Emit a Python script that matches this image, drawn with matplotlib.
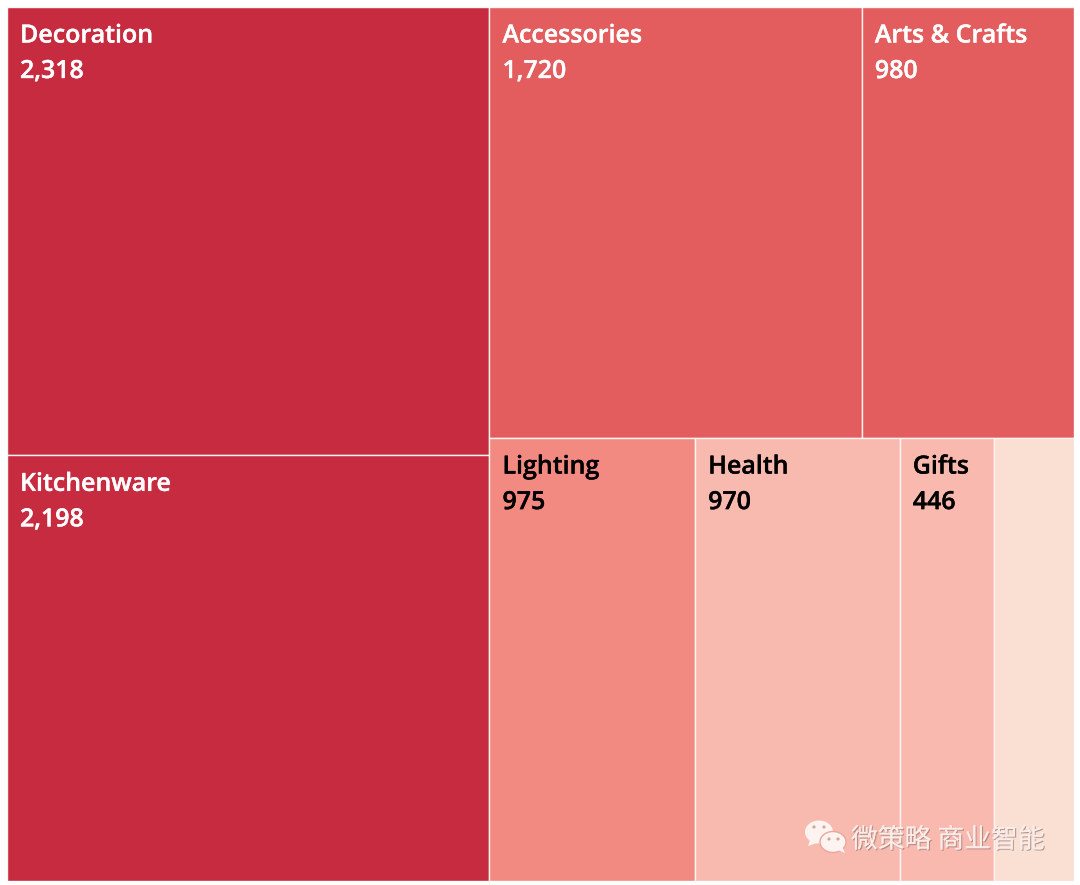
import matplotlib
matplotlib.use("Agg")
import matplotlib.pyplot as plt
import matplotlib.patheffects as pe
from matplotlib.patches import Rectangle, Ellipse, Polygon

# column, row and cell order follow the picture
left_names = ["Decoration", "Kitchenware"]
left_values = [2318, 2198]
top_names = ["Accessories", "Arts & Crafts"]
top_values = [1720, 980]
bottom_names = ["Lighting", "Health", "Gifts", ""]
bottom_values = [975, 970, 446, 380]

left_colors = ["#c72b3f", "#c72b3f"]
top_colors = ["#e35c5e", "#e35c5e"]
bottom_colors = ["#f28a82", "#f8b9ae", "#f9b9ae", "#fadfd3"]
left_text = "white"
top_text = "white"
bottom_text = "black"

W, H = 1080, 885
fig = plt.figure(figsize=(W / 100, H / 100), dpi=100, facecolor="white")
ax = fig.add_axes([7 / W, (H - 880.5) / H, 1067 / W, 873.5 / H])
total = sum(left_values) + sum(top_values) + sum(bottom_values)
ax.set_xlim(0, total)
ax.set_ylim(total, 0)
ax.axis("off")

# pixel offset of the labels, turned into data units
px_x = total / 1067
px_y = total / 873.5


def cell(x, y, w, h, name, value, color, textcolor):
    ax.add_patch(Rectangle((x, y), w, h, facecolor=color, edgecolor="#fdf3f1", linewidth=1.0))
    if name:
        thick = [pe.withStroke(linewidth=0.25, foreground=textcolor)]
        ax.text(x + 13 * px_x, y + 29 * px_y, name, color=textcolor, fontsize=18.0,
                family="Open Sans", weight="semibold", va="center", ha="left", path_effects=thick)
        ax.text(x + 13 * px_x, y + 64.5 * px_y, format(value, ","), color=textcolor, fontsize=18.0,
                family="Open Sans", weight="semibold", va="center", ha="left", path_effects=thick)


# left column
col = sum(left_values)
y = 0
for name, value, color in zip(left_names, left_values, left_colors):
    h = total * value / col
    cell(0, y, col, h, name, value, color, left_text)
    y += h

# right column, two rows
row_h = total * sum(top_values) / (total - col)
x = col
for name, value, color in zip(top_names, top_values, top_colors):
    w = (total - col) * value / sum(top_values)
    cell(x, 0, w, row_h, name, value, color, top_text)
    x += w

x = col
for name, value, color in zip(bottom_names, bottom_values, bottom_colors):
    w = (total - col) * value / sum(bottom_values)
    cell(x, row_h, w, total - row_h, name, value, color, bottom_text)
    x += w

# watermark, in pixel coordinates on top
wm = fig.add_axes([0, 0, 1, 1], facecolor="none")
wm.set_xlim(0, W)
wm.set_ylim(H, 0)
wm.axis("off")
wm.add_patch(Ellipse((819, 832), 28, 23, facecolor="#fdf3f0", edgecolor="none"))
wm.add_patch(Polygon([(810, 840), (808, 846), (817, 843)], facecolor="#fdf3f0", edgecolor="none"))
wm.add_patch(Ellipse((833, 842), 26, 21, facecolor="#fdf3f0", edgecolor="#e9a79c", linewidth=1))
wm.add_patch(Polygon([(838, 850), (845, 853), (842, 846)], facecolor="#fdf3f0", edgecolor="none"))
for ex, ey in [(814, 827), (824, 827), (829, 839), (838, 839)]:
    wm.add_patch(Ellipse((ex, ey), 3.2, 3.2, facecolor="#d9a399", edgecolor="none"))
wm.text(851, 840, "微策略 商业智能", color="#fbeeea", fontsize=19.3, va="center", ha="left",
        family=["Noto Sans CJK SC", "DejaVu Sans"], alpha=0.9,
        path_effects=[pe.withSimplePatchShadow(offset=(0.8, -0.8), shadow_rgbFace="#8a6a64", alpha=0.6), pe.Normal()])

fig.savefig("out.png", dpi=100)
